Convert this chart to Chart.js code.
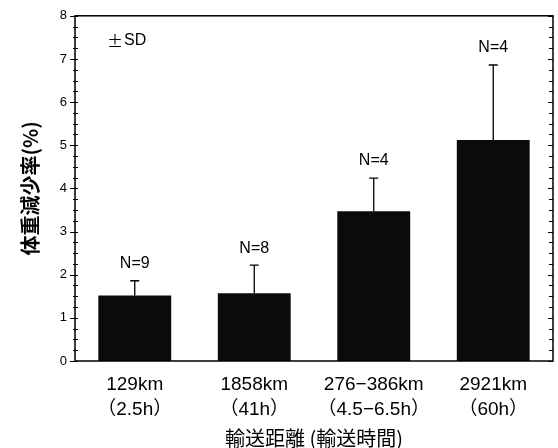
<!DOCTYPE html>
<html>
<head>
<meta charset="utf-8">
<script src="https://cdn.jsdelivr.net/npm/chart.js@4"></script>
<style>
  html, body { margin: 0; padding: 0; background: #fff; }
  #wrap { width: 558px; height: 448px; position: relative; }
</style>
</head>
<body>
<div id="wrap"><canvas id="c" width="558" height="448"></canvas></div>
<script>
// Transport distance (transport time) categories
const distanceLabels = ['129km', '1858km', '276\u2212386km', '2921km'];
const timeLabels = ['\uff082.5h\uff09', '\uff0841h\uff09', '\uff084.5\u22126.5h\uff09', '\uff0860h\uff09'];
// Body weight loss rate (%), mean and standard deviation
const meanLoss = [1.52, 1.57, 3.47, 5.12];
const sdLoss = [0.34, 0.65, 0.77, 1.74];
// Sample size per group
const sampleN = [9, 8, 4, 4];
// Y axis range and tick steps
const yMin = 0, yMax = 8, yMajorStep = 1, yMinorStep = 0.25;

const sansFont = '"Liberation Sans", "Noto Sans CJK JP", sans-serif';
const jpFont = '"Noto Sans CJK JP", "Liberation Sans", sans-serif';

const categories = distanceLabels.map((d, i) => [d, timeLabels[i]]);

// Frame, ticks, error bars and annotations drawn on top of the bars
const decorations = {
  id: 'decorations',
  afterDatasetsDraw(chart) {
    const ctx = chart.ctx;
    const area = chart.chartArea;
    const y = chart.scales.y;
    const meta = chart.getDatasetMeta(0);
    ctx.save();
    ctx.strokeStyle = '#000';
    ctx.fillStyle = '#000';

    // error bars (+SD only)
    ctx.lineWidth = 1.3;
    meta.data.forEach((bar, i) => {
      const yTop = y.getPixelForValue(meanLoss[i] + sdLoss[i]);
      const yBase = y.getPixelForValue(meanLoss[i]);
      ctx.beginPath();
      ctx.moveTo(bar.x, yBase);
      ctx.lineTo(bar.x, yTop);
      ctx.moveTo(bar.x - 4.5, yTop);
      ctx.lineTo(bar.x + 4.5, yTop);
      ctx.stroke();
      // group size label
      ctx.font = '16px ' + sansFont;
      ctx.textAlign = 'center';
      ctx.textBaseline = 'middle';
      ctx.fillText('N=' + sampleN[i], bar.x, yTop - 17);
    });

    // plot frame
    ctx.lineWidth = 1.5;
    ctx.strokeRect(area.left, area.top, area.right - area.left, area.bottom - area.top);

    // tick marks on left (crossing) and right (inward) axes
    ctx.lineWidth = 1;
    for (let v = yMin; v <= yMax + 1e-9; v += yMinorStep) {
      const py = Math.round(y.getPixelForValue(v)) + 0.5;
      const major = Math.abs(v / yMajorStep - Math.round(v / yMajorStep)) < 1e-6;
      ctx.beginPath();
      if (major) {
        ctx.moveTo(area.left - 5, py);
        ctx.lineTo(area.left + 3, py);
        ctx.moveTo(area.right - 5, py);
        ctx.lineTo(area.right, py);
      } else {
        ctx.moveTo(area.left - 2, py);
        ctx.lineTo(area.left + 3, py);
        ctx.moveTo(area.right - 4, py);
        ctx.lineTo(area.right, py);
      }
      ctx.stroke();
    }

    // ±SD note
    const noteX = area.left + 32, noteY = area.top + 25;
    ctx.textAlign = 'left';
    ctx.textBaseline = 'middle';
    ctx.font = '16px ' + jpFont;
    ctx.fillText('\u00b1', noteX, noteY);
    const pmWidth = ctx.measureText('\u00b1').width;
    ctx.font = '16px ' + sansFont;
    ctx.fillText('SD', noteX + pmWidth + 1, noteY);
    ctx.restore();
  }
};

new Chart(document.getElementById('c'), {
  type: 'bar',
  data: {
    labels: categories,
    datasets: [{
      data: meanLoss,
      backgroundColor: '#0b0b0b',
      borderWidth: 0,
      barPercentage: 0.61,
      categoryPercentage: 1.0
    }]
  },
  options: {
    responsive: false,
    animation: false,
    devicePixelRatio: 1,
    layout: { padding: { top: 13, right: 5, left: 0, bottom: 0 } },
    plugins: { legend: { display: false }, tooltip: { enabled: false } },
    scales: {
      x: {
        grid: { display: false, drawTicks: false },
        border: { display: false },
        ticks: {
          color: '#000',
          padding: 11,
          maxRotation: 0,
          font: { family: sansFont, size: 19, lineHeight: 1.32 }
        },
        title: {
          display: true,
          text: '輸送距離 (輸送時間)',
          color: '#000',
          padding: { top: 0, bottom: 0 },
          font: { family: jpFont, size: 20, lineHeight: 1 }
        },
        afterFit(scale) { scale.height = 87; }
      },
      y: {
        min: yMin,
        max: yMax,
        grid: { display: false, drawTicks: false },
        border: { display: false },
        ticks: {
          stepSize: yMajorStep,
          color: '#000',
          padding: 8,
          font: { family: sansFont, size: 13 }
        },
        title: {
          display: true,
          text: '体重減少率(%)',
          color: '#000',
          padding: { top: 18, bottom: 0 },
          font: { family: jpFont, size: 20, weight: 'bold', lineHeight: 1.2 }
        },
        afterFit(scale) { scale.width = 75; }
      }
    }
  },
  plugins: [decorations]
});
</script>
</body>
</html>
